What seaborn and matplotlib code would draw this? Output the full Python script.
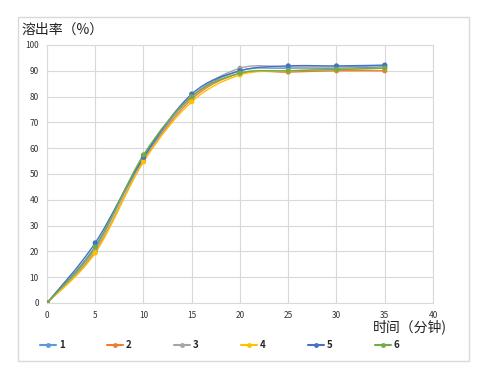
import numpy as np
import pandas as pd
import matplotlib
matplotlib.use("Agg")
import matplotlib.pyplot as plt
from matplotlib.path import Path
from matplotlib.patches import PathPatch, Rectangle
from matplotlib.lines import Line2D
import seaborn as sns

# ---- data ----
time_min = [0, 5, 10, 15, 20, 25, 30, 35]
s1 = [0, 22.0, 56.0, 80.0, 90.0, 91.0, 91.0, 91.5]
s2 = [0, 20.0, 55.0, 79.0, 89.0, 89.5, 90.0, 90.0]
s3 = [0, 21.0, 57.0, 80.0, 91.0, 91.5, 91.5, 92.0]
s4 = [0, 19.4, 54.7, 78.0, 88.4, 90.0, 90.5, 91.0]
s5 = [0, 23.3, 56.5, 81.0, 90.0, 91.9, 91.9, 92.2]
s6 = [0, 21.7, 57.4, 80.0, 89.1, 90.0, 90.5, 91.0]
series_names = ["1", "2", "3", "4", "5", "6"]
series_vals = [s1, s2, s3, s4, s5, s6]
colors = ["#5B9BD5", "#ED7D31", "#A5A5A5", "#FFC000", "#4472C4", "#70AD47"]
x_ticks = [0, 5, 10, 15, 20, 25, 30, 35, 40]
y_ticks = [0, 10, 20, 30, 40, 50, 60, 70, 80, 90, 100]

df = pd.DataFrame({
    "time": np.tile(time_min, len(series_names)),
    "value": np.concatenate(series_vals),
    "series": np.repeat(series_names, len(time_min)),
})

sns.set_style("white")
plt.rcParams['font.family'] = ['Noto Sans CJK SC', 'DejaVu Sans']

fig = plt.figure(figsize=(4.85, 3.79), dpi=100)
ax = fig.add_axes([47/485, 1 - 303/379, (433-47)/485, (303-45)/379])

# chart border
fig.patches.append(Rectangle((18/485, 1 - 361/379), 451/485, 344/379,
                             transform=fig.transFigure, fill=False,
                             edgecolor="#d9d9d9", linewidth=1.0))

grid_c = "#d9d9d9"

def smooth_path(xs, ys):
    pts = np.column_stack([xs, ys]).astype(float)
    n = len(pts)
    verts = [pts[0]]
    codes = [Path.MOVETO]
    for i in range(n - 1):
        p0 = pts[i - 1] if i > 0 else pts[i]
        p1 = pts[i]
        p2 = pts[i + 1]
        p3 = pts[i + 2] if i + 2 < n else pts[i + 1]
        c1 = p1 + (p2 - p0) / 6.0
        c2 = p2 - (p3 - p1) / 6.0
        verts += [c1, c2, p2]
        codes += [Path.CURVE4] * 3
    return Path(verts, codes)

for name, vals, c in zip(series_names, series_vals, colors):
    patch = PathPatch(smooth_path(time_min, vals), facecolor="none",
                      edgecolor=c, linewidth=1.0, zorder=3)
    ax.add_patch(patch)

sns.scatterplot(data=df, x="time", y="value", hue="series",
                palette=dict(zip(series_names, colors)), s=14,
                edgecolor="none", ax=ax, legend=False, zorder=4)

ax.set_xlim(0, 40)
ax.set_ylim(0, 100)
ax.set_xticks(x_ticks)
ax.set_yticks(y_ticks)
ax.set_xticklabels([str(v) for v in x_ticks])
ax.set_yticklabels([str(v) for v in y_ticks])
ax.grid(True, color=grid_c, linewidth=0.8)
ax.set_axisbelow(True)
for sp in ax.spines.values():
    sp.set_color(grid_c)
    sp.set_linewidth(0.8)
ax.tick_params(axis="both", length=0, labelsize=6, colors="#333333", pad=6)
ax.set_xlabel("")
ax.set_ylabel("")

fig.text(22/485, 1 - 30/379, "溶出率（%）", fontsize=10, color="#222222",
         va="center", ha="left")
fig.text(447/485, 1 - 327/379, "时间（分钟)", fontsize=10, color="#222222",
         va="center", ha="right")

handles = [Line2D([0], [0], color=c, linewidth=1.5, marker="o", markersize=3.5,
                  markeredgewidth=0) for c in colors]
fig.legend(handles, series_names, loc="center left", ncol=6,
           bbox_to_anchor=(40/485, 1 - 345/379), frameon=False,
           handlelength=1.65, handletextpad=0.3,
           columnspacing=4.35, borderaxespad=0, borderpad=0,
           prop={"weight": "bold", "size": 7})

fig.savefig("out.png", dpi=100)
